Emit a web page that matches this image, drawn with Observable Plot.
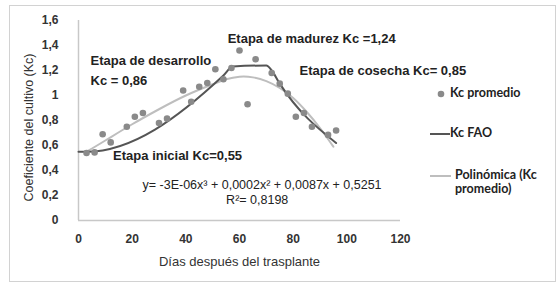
<!DOCTYPE html>
<html><head><meta charset="utf-8">
<script src="https://cdn.jsdelivr.net/npm/d3@7"></script>
<script src="https://cdn.jsdelivr.net/npm/@observablehq/plot@0.6"></script>
<style>
body{margin:0;background:#fff;}
#wrap{position:relative;width:560px;height:290px;}
#frame{position:absolute;left:9px;top:5px;width:547px;height:277px;border:1.5px solid #d2d2d2;box-sizing:border-box;pointer-events:none;}
.lg{position:absolute;font-family:Lato,'Open Sans',sans-serif;font-weight:bold;font-size:12.5px;color:#222;line-height:14px;white-space:nowrap;}
.sw{position:absolute;line-height:0;}
.sw svg{display:block;}
</style></head>
<body><div id="wrap"><div id="frame"></div></div>
<script>
// Kc promedio (observed points)
const days = [3,6,9,12,18,21,24,30,33,39,42,45,48,51,54,57,60,63,66,72,75,78,81,84,87,93,96];
const kcProm = [0.54,0.545,0.69,0.625,0.75,0.83,0.86,0.78,0.815,1.04,0.95,1.07,1.10,1.21,1.13,1.22,1.36,0.93,1.29,1.18,1.095,1.015,0.83,0.86,0.75,0.685,0.72];
// Kc FAO curve
const faoDays = [0,3,54,57.5,70,72,75,96];
const faoKc = [0.55,0.55,1.16,1.232,1.24,1.20,1.095,0.62];
// Polynomial trendline
const polyDays = [3,10,20,30,40,50,55,60,65,70,75,80,85,90,95];
const polyKc = [0.55,0.64,0.77,0.89,1.0,1.09,1.13,1.15,1.145,1.115,1.06,0.98,0.87,0.74,0.59];
// ticks
const xTicks = [0,20,40,60,80,100,120];
const yTicks = [0,0.2,0.4,0.6,0.8,1,1.2,1.4,1.6];
// annotations
const annLabels = ["Etapa de desarrollo","Kc = 0,86","Etapa inicial Kc=0,55","Etapa de madurez Kc =1,24","Etapa de cosecha Kc= 0,85"];
const annDays = [4.5,4.5,12.9,55.6,82.4];
const annKc = [1.28,1.12,0.52,1.454,1.20];
const eqLabels = ["y= -3E-06x³ + 0,0002x² + 0,0087x + 0,5251","R²= 0,8198"];
const eqDays = [68.4,66.6];
const eqKc = [0.285,0.165];
const xTitle = "Días después del trasplante";
const yTitle = "Coeficiente del cultivo (Kc)";
const legendLabels = ["Kc promedio","Kc FAO","Polinómica (Kc\npromedio)"];

const prom = days.map((d,i)=>({x:d,y:kcProm[i]}));
const fao = faoDays.map((d,i)=>({x:d,y:faoKc[i]}));
const poly = polyDays.map((d,i)=>({x:d,y:polyKc[i]}));
const ann = annLabels.map((t,i)=>({t,x:annDays[i],y:annKc[i]}));
const eq = eqLabels.map((t,i)=>({t,x:eqDays[i],y:eqKc[i]}));
const fmt = d => String(d).replace(".", ",");
const font = "'Liberation Sans', Arial, sans-serif";

const plot = Plot.plot({
  width:560, height:290,
  marginLeft:78, marginRight:160, marginTop:20, marginBottom:70,
  style:{fontFamily:font, background:"transparent", overflow:"visible"},
  x:{domain:[0,120]},
  y:{domain:[0,1.6]},
  marks:[
    Plot.ruleY([0],{stroke:"#c8c8c8",strokeWidth:1.5}),
    Plot.ruleX([0],{stroke:"#c8c8c8",strokeWidth:1.5}),
    Plot.axisX({ticks:xTicks, tickSize:0, tickPadding:14, fontSize:12, fontWeight:"bold", color:"#333", label:null}),
    Plot.axisY({ticks:yTicks, tickSize:0, tickPadding:20, tickFormat:fmt, fontSize:12, fontWeight:"bold", color:"#333", label:null}),
    Plot.line(poly,{x:"x",y:"y",stroke:"#bebebe",strokeWidth:2,curve:"natural"}),
    Plot.line(fao,{x:"x",y:"y",stroke:"#555",strokeWidth:2,curve:"monotone-x"}),
    Plot.dot(prom,{x:"x",y:"y",r:3.3,fill:"#8a8a8a"}),
    Plot.text(ann,{x:"x",y:"y",text:"t",textAnchor:"start",fontSize:13,fontWeight:"bold",fill:"#222"}),
    Plot.text(eq,{x:"x",y:"y",text:"t",textAnchor:"middle",fontSize:12.5,fill:"#222"}),
    Plot.text([xTitle],{text:d=>d,frameAnchor:"bottom",textAnchor:"middle",dy:45,fontSize:13,fill:"#333"}),
    Plot.text([yTitle],{text:d=>d,frameAnchor:"left",textAnchor:"middle",rotate:-90,dx:-50,dy:7,fontSize:12.5,fill:"#333"})
  ]
});
const wrap = document.getElementById("wrap");
plot.style.position = "absolute";
plot.style.left = "0"; plot.style.top = "0";
wrap.appendChild(plot);

// legend (HTML overlay)
function add(html, cls, left, top){
  const el = document.createElement("div");
  el.className = cls; el.style.left = left+"px"; el.style.top = top+"px";
  el.innerHTML = html; wrap.appendChild(el); return el;
}
add('<svg width="8" height="8"><circle cx="4" cy="4" r="3.3" fill="#8a8a8a"/></svg>',"sw",437,90);
add(legendLabels[0],"lg",450,86);
add('<svg width="22" height="4"><line x1="0" y1="2" x2="20" y2="2" stroke="#555" stroke-width="2"/></svg>',"sw",430,132);
add(legendLabels[1],"lg",450,126);
add('<svg width="22" height="4"><line x1="0" y1="2" x2="21" y2="2" stroke="#bebebe" stroke-width="2"/></svg>',"sw",430,174);
add(legendLabels[2].replace("\n","<br>"),"lg",455,168);
</script>
</body></html>
